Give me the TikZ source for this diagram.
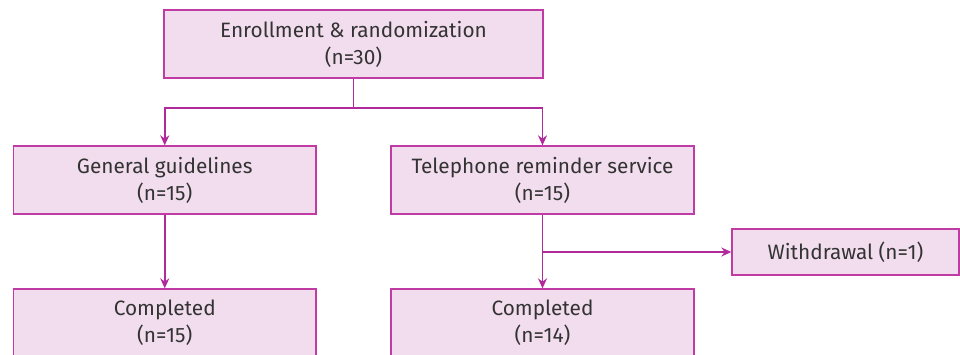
\documentclass[tikz,border=0pt]{standalone}
\usepackage{fontspec}
\setmainfont{Fira Sans}
\usetikzlibrary{arrows.meta}
\definecolor{boxfill}{HTML}{F2DDEE}
\definecolor{boxline}{HTML}{C03CA4}
\definecolor{conn}{HTML}{B02A9C}
\definecolor{txt}{HTML}{333333}
\tikzset{
  box/.style={draw=boxline, fill=boxfill, line width=1.3pt, minimum height=68pt, align=center, text=txt, font=\fontsize{20.8}{27}\selectfont, inner sep=0pt},
  conn/.style={draw=conn, line width=1.6pt},
  arr/.style={conn, -{Stealth[length=10pt,width=9pt]}}
}
\begin{document}
\begin{tikzpicture}[x=1pt,y=-1pt]
\useasboundingbox (0,0) rectangle (960,354);
\clip (0,0) rectangle (960,354);
\node[box, minimum width=379pt] (enr) at (353.5,44) {Enrollment \& randomization\\(n=30)};
\node[box, minimum width=302.5pt] (gen) at (164.75,180) {General guidelines\\(n=15)};
\node[box, minimum width=303pt] (tel) at (542.5,180) {Telephone reminder service\\(n=15)};
\node[box, minimum width=227pt, minimum height=46pt] (wd) at (845.5,252) {Withdrawal (n=1)};
\node[box, minimum width=302.5pt] (cg) at (164.75,323) {Completed\\(n=15)};
\node[box, minimum width=303pt] (ct) at (542.5,323) {Completed\\(n=14)};
\coordinate (split) at (353.5,108);
\coordinate (br) at (542.5,252);
\draw[conn] (enr.south) -- (split);
\draw[arr] (split) -| (gen.north);
\draw[arr] (split) -| (tel.north);
\draw[arr] (gen.south) -- (cg.north);
\draw[arr] (tel.south) -- (ct.north);
\draw[arr] (br) -- (wd.west);
\end{tikzpicture}
\end{document}
